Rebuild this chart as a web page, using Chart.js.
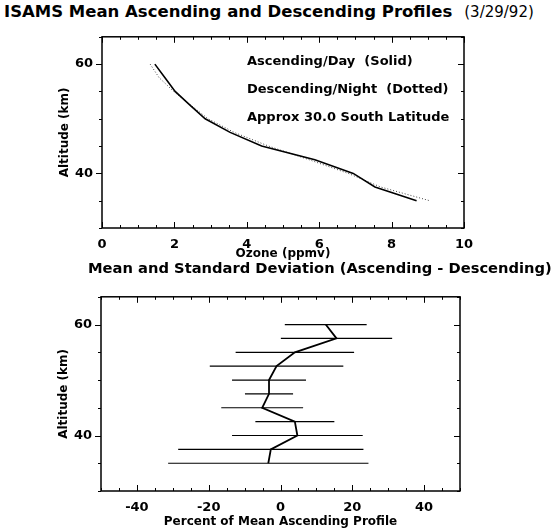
<!DOCTYPE html>
<html>
<head>
<meta charset="utf-8">
<script src="https://cdn.jsdelivr.net/npm/chart.js@4"></script>
<style>
  html, body { margin: 0; padding: 0; background: #fff; }
  #page { position: relative; width: 554px; height: 529px; overflow: hidden; font-family: "DejaVu Sans", sans-serif; color: #000; }
  .title { position: absolute; font-weight: bold; white-space: nowrap; }
  #title-top { left: 4px; top: 2px; font-size: 16.5px; }
  #title-top span { font-weight: normal; font-size: 15px; margin-left: 12px; }
  #title-bottom { left: 88px; top: 259px; font-size: 14.7px; }
  .box { position: absolute; left: 0; }
  #box-top { top: 20px; }
  #box-bottom { top: 280px; }
</style>
</head>
<body>
<div id="page">
  <div class="title" id="title-top">ISAMS Mean Ascending and Descending Profiles<span>(3/29/92)</span></div>
  <div class="box" id="box-top"><canvas id="profiles" width="554" height="245"></canvas></div>
  <div class="title" id="title-bottom">Mean and Standard Deviation (Ascending - Descending)</div>
  <div class="box" id="box-bottom"><canvas id="difference" width="554" height="249"></canvas></div>
</div>
<script>
// altitude levels (km), shared by both panels
const altitudes = [60, 57.5, 55, 52.5, 50, 47.5, 45, 42.5, 40, 37.5, 35];
// ozone mixing ratio (ppmv)
const ozoneAscending = [1.46, 1.74, 2.02, 2.43, 2.85, 3.54, 4.41, 5.88, 6.94, 7.54, 8.69];
const ozoneDescending = [1.33, 1.58, 1.98, 2.45, 2.93, 3.65, 4.6, 5.72, 6.8, 7.7, 9.05];
// ascending - descending, percent of mean ascending profile
const diffMean = [12.6, 15.6, 4.0, -1.1, -3.2, -3.2, -5.1, 4.0, 4.7, -2.7, -3.4];
const diffStdDev = [11.4, 15.5, 16.5, 18.6, 10.3, 6.7, 11.4, 11.0, 18.2, 25.8, 27.9];
// tick labels
const ozoneTicks = [0, 2, 4, 6, 8, 10];
const percentTicks = [-40, -20, 0, 20, 40];
const altitudeTicks = [40, 60];
const notes = ['Ascending/Day  (Solid)', 'Descending/Night  (Dotted)', 'Approx 30.0 South Latitude'];

const FONT = 'DejaVu Sans';

function points(xs) {
    return altitudes.map((a, i) => ({ x: xs[i], y: a }));
}

// IDL style box with minor tick marks
const frameTicks = {
    id: 'frameTicks',
    afterDraw(chart, args, opts) {
        const { ctx, chartArea: a, scales: { x, y } } = chart;
        ctx.save();
        ctx.strokeStyle = '#000';
        ctx.lineWidth = 1.5;
        ctx.strokeRect(a.left, a.top, a.right - a.left, a.bottom - a.top);
        ctx.lineWidth = 1;
        ctx.beginPath();
        for (let v = x.min; v <= x.max + 1e-9; v += opts.xMinor) {
            const px = Math.round(x.getPixelForValue(v)) + 0.5;
            const len = Math.abs(v % opts.xMajor) < 1e-9 ? 6 : 3;
            ctx.moveTo(px, a.bottom); ctx.lineTo(px, a.bottom - len);
            ctx.moveTo(px, a.top); ctx.lineTo(px, a.top + len);
        }
        for (let v = y.min; v <= y.max + 1e-9; v += opts.yMinor) {
            const py = Math.round(y.getPixelForValue(v)) + 0.5;
            const len = Math.abs(v % opts.yMajor) < 1e-9 ? 6 : 3;
            ctx.moveTo(a.left, py); ctx.lineTo(a.left - len, py);
            ctx.moveTo(a.right, py); ctx.lineTo(a.right - len, py);
        }
        ctx.stroke();
        ctx.restore();
    }
};

const noteText = {
    id: 'noteText',
    afterDraw(chart, args, opts) {
        if (!opts.lines) return;
        const { ctx, chartArea: a } = chart;
        ctx.save();
        ctx.fillStyle = '#000';
        ctx.font = 'bold 13px "' + FONT + '"';
        ctx.textBaseline = 'middle';
        opts.lines.forEach((t, i) => ctx.fillText(t, a.left + opts.dx, a.top + opts.dy + i * opts.gap));
        ctx.restore();
    }
};

function axis(min, max, tickValues, title, fit, titlePad) {
    return {
        type: 'linear',
        min: min,
        max: max,
        afterBuildTicks: s => { s.ticks = tickValues.map(v => ({ value: v })); },
        afterFit: fit,
        grid: { display: false, drawTicks: false },
        border: { display: false },
        ticks: { color: '#000', font: { family: FONT, size: 13, weight: 'bold' }, padding: 9, maxRotation: 0, autoSkip: false },
        title: { display: true, text: title, color: '#000', font: { family: FONT, size: 12, weight: 'bold' }, padding: titlePad }
    };
}

new Chart(document.getElementById('profiles'), {
    type: 'scatter',
    data: {
        datasets: [{
            label: 'Ascending/Day',
            data: points(ozoneAscending),
            showLine: true,
            borderColor: '#000',
            borderWidth: 1.6,
            pointRadius: 0
        }, {
            label: 'Descending/Night',
            data: points(ozoneDescending),
            showLine: true,
            borderColor: '#444',
            borderWidth: 1,
            borderDash: [1, 2],
            pointRadius: 0
        }]
    },
    options: {
        responsive: false,
        animation: false,
        layout: { padding: { left: 58, right: 90, top: 10, bottom: 0 } },
        plugins: {
            legend: { display: false },
            tooltip: { enabled: false },
            frameTicks: { xMinor: 0.5, xMajor: 2, yMinor: 5, yMajor: 20 },
            noteText: { lines: notes, dx: 145, dy: 25, gap: 28 }
        },
        scales: {
            x: axis(0, 10, ozoneTicks, 'Ozone (ppmv)', s => { s.height = 37; }, { top: 0, bottom: 4 }),
            y: axis(30, 65, altitudeTicks, 'Altitude (km)', s => { s.width = 44; }, { top: 0, bottom: 0 })
        }
    },
    plugins: [frameTicks, noteText]
});

const errorBars = altitudes.map((a, i) => ({
    data: [{ x: diffMean[i] - diffStdDev[i], y: a }, { x: diffMean[i] + diffStdDev[i], y: a }],
    showLine: true,
    borderColor: '#000',
    borderWidth: 1.2,
    pointRadius: 0
}));

new Chart(document.getElementById('difference'), {
    type: 'scatter',
    data: {
        datasets: [{
            label: 'Mean',
            data: points(diffMean),
            showLine: true,
            borderColor: '#000',
            borderWidth: 1.8,
            pointRadius: 0
        }].concat(errorBars)
    },
    options: {
        responsive: false,
        animation: false,
        layout: { padding: { left: 57, right: 94, top: 13, bottom: 0 } },
        plugins: {
            legend: { display: false },
            tooltip: { enabled: false },
            frameTicks: { xMinor: 5, xMajor: 20, yMinor: 5, yMajor: 20 }
        },
        scales: {
            x: axis(-50, 50, percentTicks, 'Percent of Mean Ascending Profile', s => { s.height = 38; }, { top: 0, bottom: 0 }),
            y: axis(30, 65, altitudeTicks, 'Altitude (km)', s => { s.width = 44; }, { top: 0, bottom: 0 })
        }
    },
    plugins: [frameTicks, noteText]
});
</script>
</body>
</html>
